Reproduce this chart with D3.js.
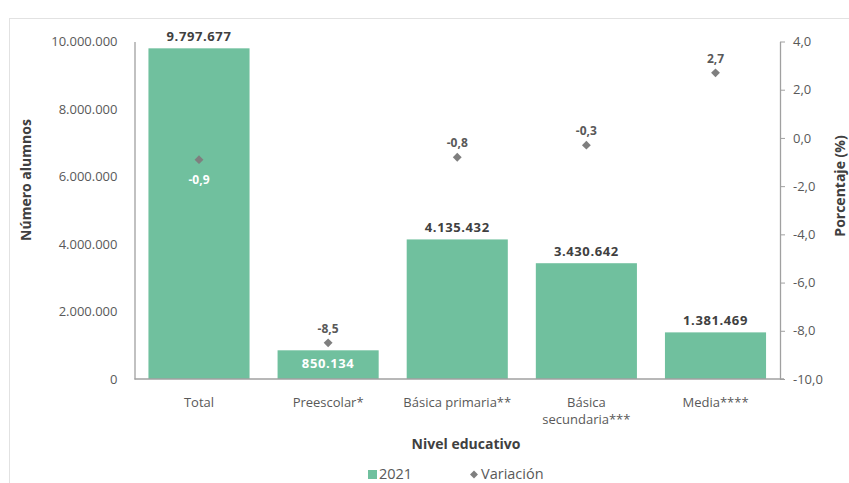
<!DOCTYPE html>
<html><head><meta charset="utf-8">
<script src="https://cdn.jsdelivr.net/npm/d3@7"></script>
<style>
html,body{margin:0;padding:0;background:#fff;}
svg{display:block;font-family:"Open Sans",sans-serif;}
</style></head>
<body>
<svg id="chart" width="849" height="483"></svg>
<script>
const categories = ["Total", "Preescolar*", "Básica primaria**", "Básica\nsecundaria***", "Media****"];
const alumnos2021 = [9797677, 850134, 4135432, 3430642, 1381469];
const variacion = [-0.9, -8.5, -0.8, -0.3, 2.7];
const leftTicks = [0, 2000000, 4000000, 6000000, 8000000, 10000000];
const rightTicks = [-10, -8, -6, -4, -2, 0, 2, 4];

const svg = d3.select("#chart");
const barColor = "#70c09e";
const markColor = "#7f7f7f";
const axisColor = "#a0a0a0";
const textColor = "#595959";
const labelColor = "#404040";

const x0 = 134.5, x1 = 780, yTop = 41.5, yBot = 379;

// dotted frame
svg.append("rect").attr("x", 9.5).attr("y", 18.5).attr("width", 860).attr("height", 500)
  .attr("fill", "none").attr("stroke", "#c4c4c4").attr("stroke-dasharray", "1,1");

const x = d3.scaleBand().domain(categories).range([x0, x1]).paddingInner(0.217).paddingOuter(0.108);
const yL = d3.scaleLinear().domain([0, 10000000]).range([yBot, yTop]);
const yR = d3.scaleLinear().domain([-10, 4]).range([yBot, yTop]);

const fmtN = d => d3.format(",")(d).replace(/,/g, ".");
const fmtP = d => d3.format(".1f")(d).replace(".", ",").replace("−", "-");

// bars
svg.append("g").selectAll("rect").data(alumnos2021).join("rect")
  .attr("x", (d, i) => x(categories[i]))
  .attr("width", x.bandwidth())
  .attr("y", d => yL(d))
  .attr("height", d => yBot - yL(d))
  .attr("fill", barColor);

// left axis
const gL = svg.append("g").attr("transform", `translate(${x0},0)`)
  .call(d3.axisLeft(yL).tickValues(leftTicks).tickFormat(fmtN).tickSize(0).tickPadding(17));
gL.select(".domain").attr("stroke", axisColor).attr("stroke-width", 1.3);
gL.selectAll("text").attr("fill", textColor).attr("font-size", 13).attr("font-family", "Open Sans");

// right axis
const gR = svg.append("g").attr("transform", `translate(${x1},0)`)
  .call(d3.axisRight(yR).tickValues(rightTicks).tickFormat(fmtP).tickSize(5).tickSizeOuter(0).tickPadding(8));
gR.select(".domain").attr("stroke", axisColor).attr("stroke-width", 1.3);
gR.selectAll(".tick line").attr("stroke", axisColor);
gR.selectAll("text").attr("fill", textColor).attr("font-size", 13).attr("font-family", "Open Sans");

// bottom axis line
const gB = svg.append("g").attr("transform", `translate(0,${yBot})`)
  .call(d3.axisBottom(x).tickSize(0).tickSizeOuter(0).tickFormat(""));
gB.select(".domain").attr("stroke", axisColor).attr("stroke-width", 1.3).attr("d", `M${x0},0H${x1 + 4}`);

// category labels
const catG = svg.append("g");
categories.forEach((c, i) => {
  const lines = c.split("\n");
  const t = catG.append("text").attr("x", x(c) + x.bandwidth() / 2).attr("y", 407)
    .attr("text-anchor", "middle").attr("fill", textColor).attr("font-size", 13);
  lines.forEach((l, j) => t.append("tspan").attr("x", x(c) + x.bandwidth() / 2).attr("dy", j === 0 ? 0 : 17).text(l));
});

// bar value labels
svg.append("g").selectAll("text").data(alumnos2021).join("text")
  .attr("x", (d, i) => x(categories[i]) + x.bandwidth() / 2)
  .attr("y", (d, i) => i === 1 ? yL(d) + 18 : yL(d) - 7)
  .attr("text-anchor", "middle")
  .attr("font-size", 13).attr("font-weight", "bold").attr("letter-spacing", 0.6)
  .attr("fill", (d, i) => i === 1 ? "#ffffff" : labelColor)
  .text(fmtN);

// variation markers
const diamond = d3.symbol().type(d3.symbolDiamond2).size(50);
svg.append("g").selectAll("path").data(variacion).join("path")
  .attr("transform", (d, i) => `translate(${x(categories[i]) + x.bandwidth() / 2},${yR(d)})`)
  .attr("d", diamond).attr("fill", markColor);

svg.append("g").selectAll("text").data(variacion).join("text")
  .attr("x", (d, i) => x(categories[i]) + x.bandwidth() / 2)
  .attr("y", (d, i) => i === 0 ? yR(d) + 24 : yR(d) - 10)
  .attr("text-anchor", "middle")
  .attr("font-size", 12).attr("font-weight", "bold")
  .attr("fill", (d, i) => i === 0 ? "#ffffff" : textColor)
  .text(fmtP);

// axis titles
svg.append("text").attr("transform", "translate(31,180) rotate(-90)")
  .attr("text-anchor", "middle").attr("font-size", 14).attr("font-weight", "bold").attr("fill", labelColor)
  .text("Número alumnos");
svg.append("text").attr("transform", "translate(845,186) rotate(-90)")
  .attr("text-anchor", "middle").attr("font-size", 14).attr("font-weight", "bold").attr("fill", labelColor)
  .text("Porcentaje (%)");
svg.append("text").attr("x", 466).attr("y", 449)
  .attr("text-anchor", "middle").attr("font-size", 14).attr("font-weight", "bold").attr("fill", labelColor)
  .text("Nivel educativo");

// legend
const lg = svg.append("g");
lg.append("rect").attr("x", 368).attr("y", 470).attr("width", 9).attr("height", 9).attr("fill", barColor);
lg.append("text").attr("x", 379).attr("y", 479).attr("font-size", 14.5).attr("fill", textColor).text("2021");
lg.append("path").attr("transform", "translate(474,474.5)").attr("d", d3.symbol().type(d3.symbolDiamond2).size(40)).attr("fill", markColor);
lg.append("text").attr("x", 481).attr("y", 479).attr("font-size", 14.5).attr("fill", textColor).text("Variación");
</script>
</body></html>
